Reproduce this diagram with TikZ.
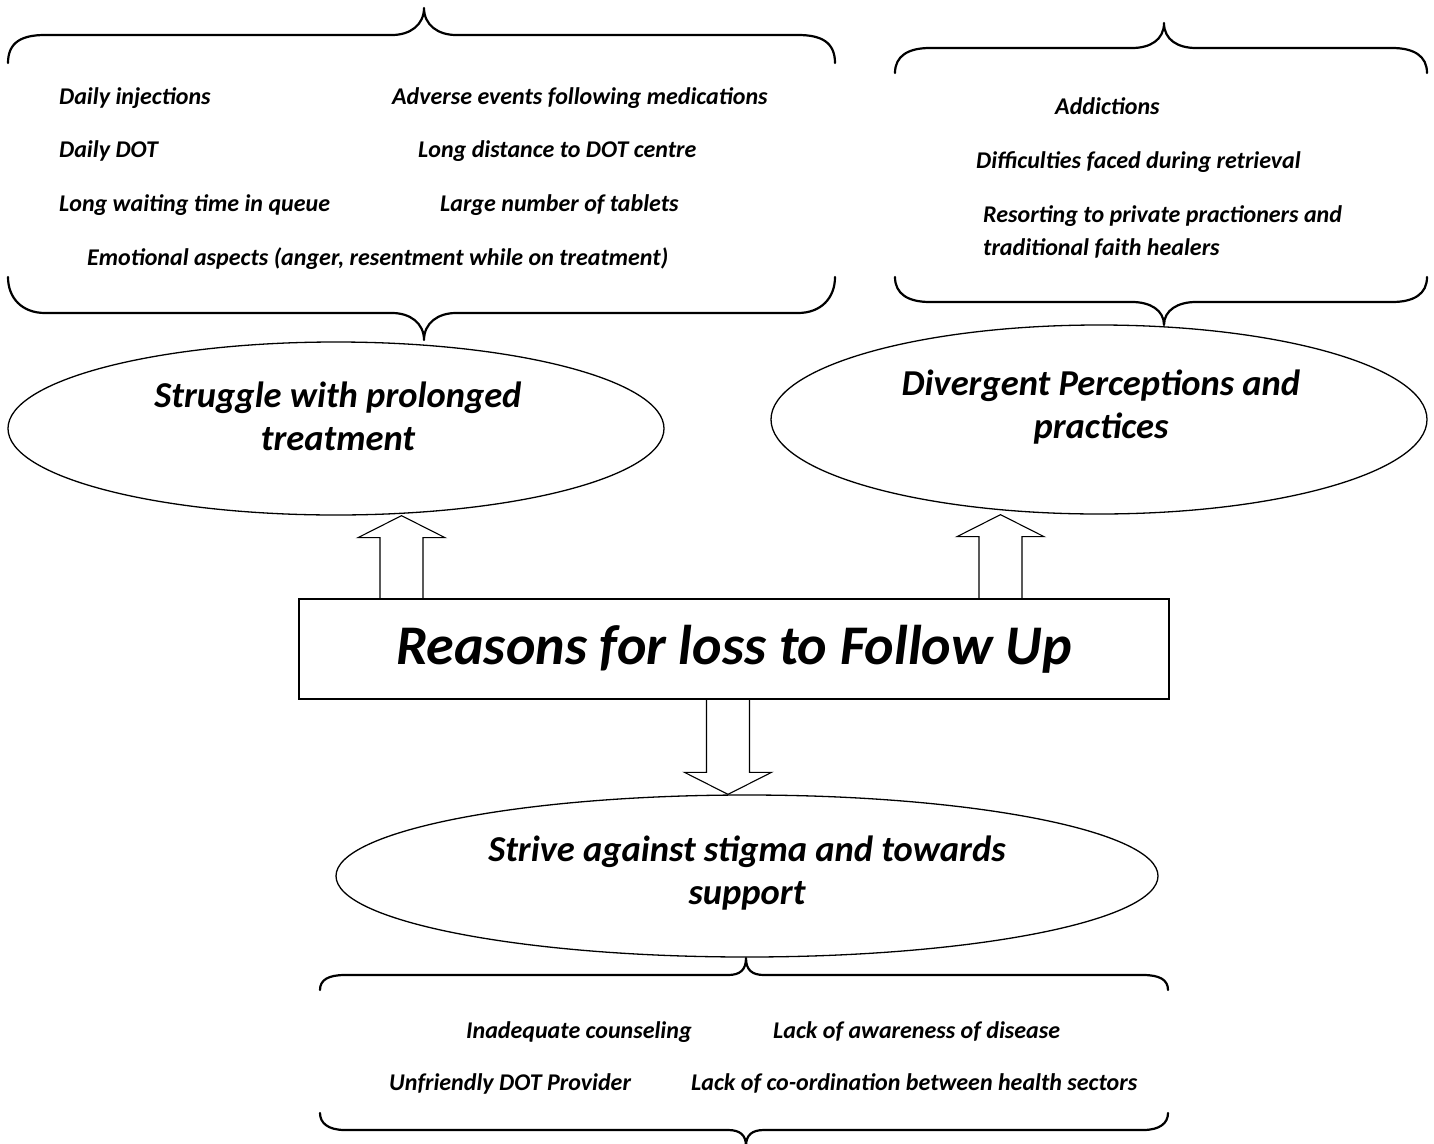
\documentclass[tikz,border=0pt]{standalone}
\usepackage{fontspec}
\setmainfont{Carlito}
\usetikzlibrary{calc,shapes.geometric}

\begin{document}
\begin{tikzpicture}[x=1pt, y=-1pt,
    oval/.style={draw, ellipse, line width=1.3pt, inner sep=0pt},
    heading/.style={font=\fontsize{36.5}{43}\selectfont\bfseries\itshape, align=center, inner sep=0pt, anchor=base},
    entry/.style={font=\fontsize{24}{33}\selectfont\bfseries\itshape, align=left, inner sep=0pt, anchor=base west},
    curly/.style={line width=2.2pt, line cap=round, line join=round},
    blockarrow/.style={draw, line width=1.1pt,
        to path={let \p1=(\tikztostart), \p2=(\tikztotarget), \n1={22*sign(\y2-\y1)} in
            ({\x1-21.5pt},\y1) -- ({\x1-21.5pt},{\y2-(\n1)*1pt}) -- ({\x1-43.5pt},{\y2-(\n1)*1pt}) -- (\x1,\y2)
            -- ({\x1+43.5pt},{\y2-(\n1)*1pt}) -- ({\x1+21.5pt},{\y2-(\n1)*1pt}) -- ({\x1+21.5pt},\y1)}}]
    \useasboundingbox (0,0) rectangle (1434,1143);

    % centre box and the three themes
    \node[draw, line width=1.3pt, minimum width=870, minimum height=100, inner sep=0pt,
        font=\fontsize{56}{60}\selectfont\bfseries\itshape] (title) at (734,649) {Reasons for loss to Follow Up};
    \node[oval, minimum width=656, minimum height=173] (struggle) at (336,428.5) {};
    \node[oval, minimum width=656, minimum height=189] (divergent) at (1099,419.5) {};
    \node[oval, minimum width=822, minimum height=162] (strive) at (747,876) {};
    % base anchor sits on the last line
    \node[heading] (struggletxt) at (338,450) {Struggle with prolonged\\treatment};
    \node[heading] (divergenttxt) at (1101,438) {Divergent Perceptions and\\practices};
    \node[heading] (strivetxt) at (747,904) {Strive against stigma and towards\\support};

    \draw[blockarrow] ([xshift=-332.5pt]title.north) to (struggle.south);
    \draw[blockarrow] ([xshift=266.5pt]title.north) to (divergent.south);
    \draw[blockarrow] ([xshift=-6pt]title.south) to (strive.north);

    % braces, top left
    \draw[curly] (8,63) .. controls (8,42) and (22,35) .. (45,35) -- (392,35)
        .. controls (410,35) and (424,25) .. (424,8) .. controls (424,25) and (438,35) .. (456,35)
        -- (798,35) .. controls (821,35) and (835,42) .. (835,63);
    \draw[curly] (8,277) .. controls (8,298) and (22,313) .. (45,313) -- (392,313)
        .. controls (410,313) and (424,323) .. (424,340) .. controls (424,323) and (438,313) .. (456,313)
        -- (798,313) .. controls (821,313) and (835,298) .. (835,277);
    % braces, top right
    \draw[curly] (895,73) .. controls (895,56) and (908,48) .. (930,48) -- (1132,48)
        .. controls (1150,48) and (1164,40) .. (1164,23) .. controls (1164,40) and (1178,48) .. (1196,48)
        -- (1392,48) .. controls (1414,48) and (1427,56) .. (1427,73);
    \draw[curly] (895,277) .. controls (895,294) and (908,302) .. (930,302) -- (1132,302)
        .. controls (1150,302) and (1164,310) .. (1164,325) .. controls (1164,310) and (1178,302) .. (1196,302)
        -- (1392,302) .. controls (1414,302) and (1427,294) .. (1427,277);
    % braces, bottom
    \draw[curly] (320,990) .. controls (320,980) and (328,975) .. (345,975) -- (728,975)
        .. controls (740,975) and (746,970) .. (746,958) .. controls (746,970) and (752,975) .. (764,975)
        -- (1143,975) .. controls (1160,975) and (1168,980) .. (1168,990);
    \draw[curly] (320,1113) .. controls (320,1123) and (328,1130) .. (345,1130) -- (728,1130)
        .. controls (740,1130) and (746,1135) .. (746,1146) .. controls (746,1135) and (752,1130) .. (764,1130)
        -- (1143,1130) .. controls (1160,1130) and (1168,1123) .. (1168,1113);

    % items
    \node[entry] (injections) at (59,104) {Daily injections};
    \node[entry] (adverse) at (392,104) {Adverse events following medications};
    \node[entry] (dailydot) at (59,157) {Daily DOT};
    \node[entry] (distance) at (418,157) {Long distance to DOT centre};
    \node[entry] (waiting) at (59,211) {Long waiting time in queue};
    \node[entry] (tablets) at (440,211) {Large number of tablets};
    \node[entry] (emotional) at (87,265) {Emotional aspects (anger, resentment while on treatment)};
    \node[entry] (addictions) at (1055,114) {Addictions};
    \node[entry] (retrieval) at (976,168) {Difficulties faced during retrieval};
    \node[entry] (resorting) at (983,255) {Resorting to private practioners and\\traditional faith healers};
    \node[entry] (counseling) at (466,1038) {Inadequate counseling};
    \node[entry] (awareness) at (773,1038) {Lack of awareness of disease};
    \node[entry] (provider) at (389,1090) {Unfriendly DOT Provider};
    \node[entry] (coordination) at (691,1090) {Lack of co-ordination between health sectors};
\end{tikzpicture}
\end{document}
